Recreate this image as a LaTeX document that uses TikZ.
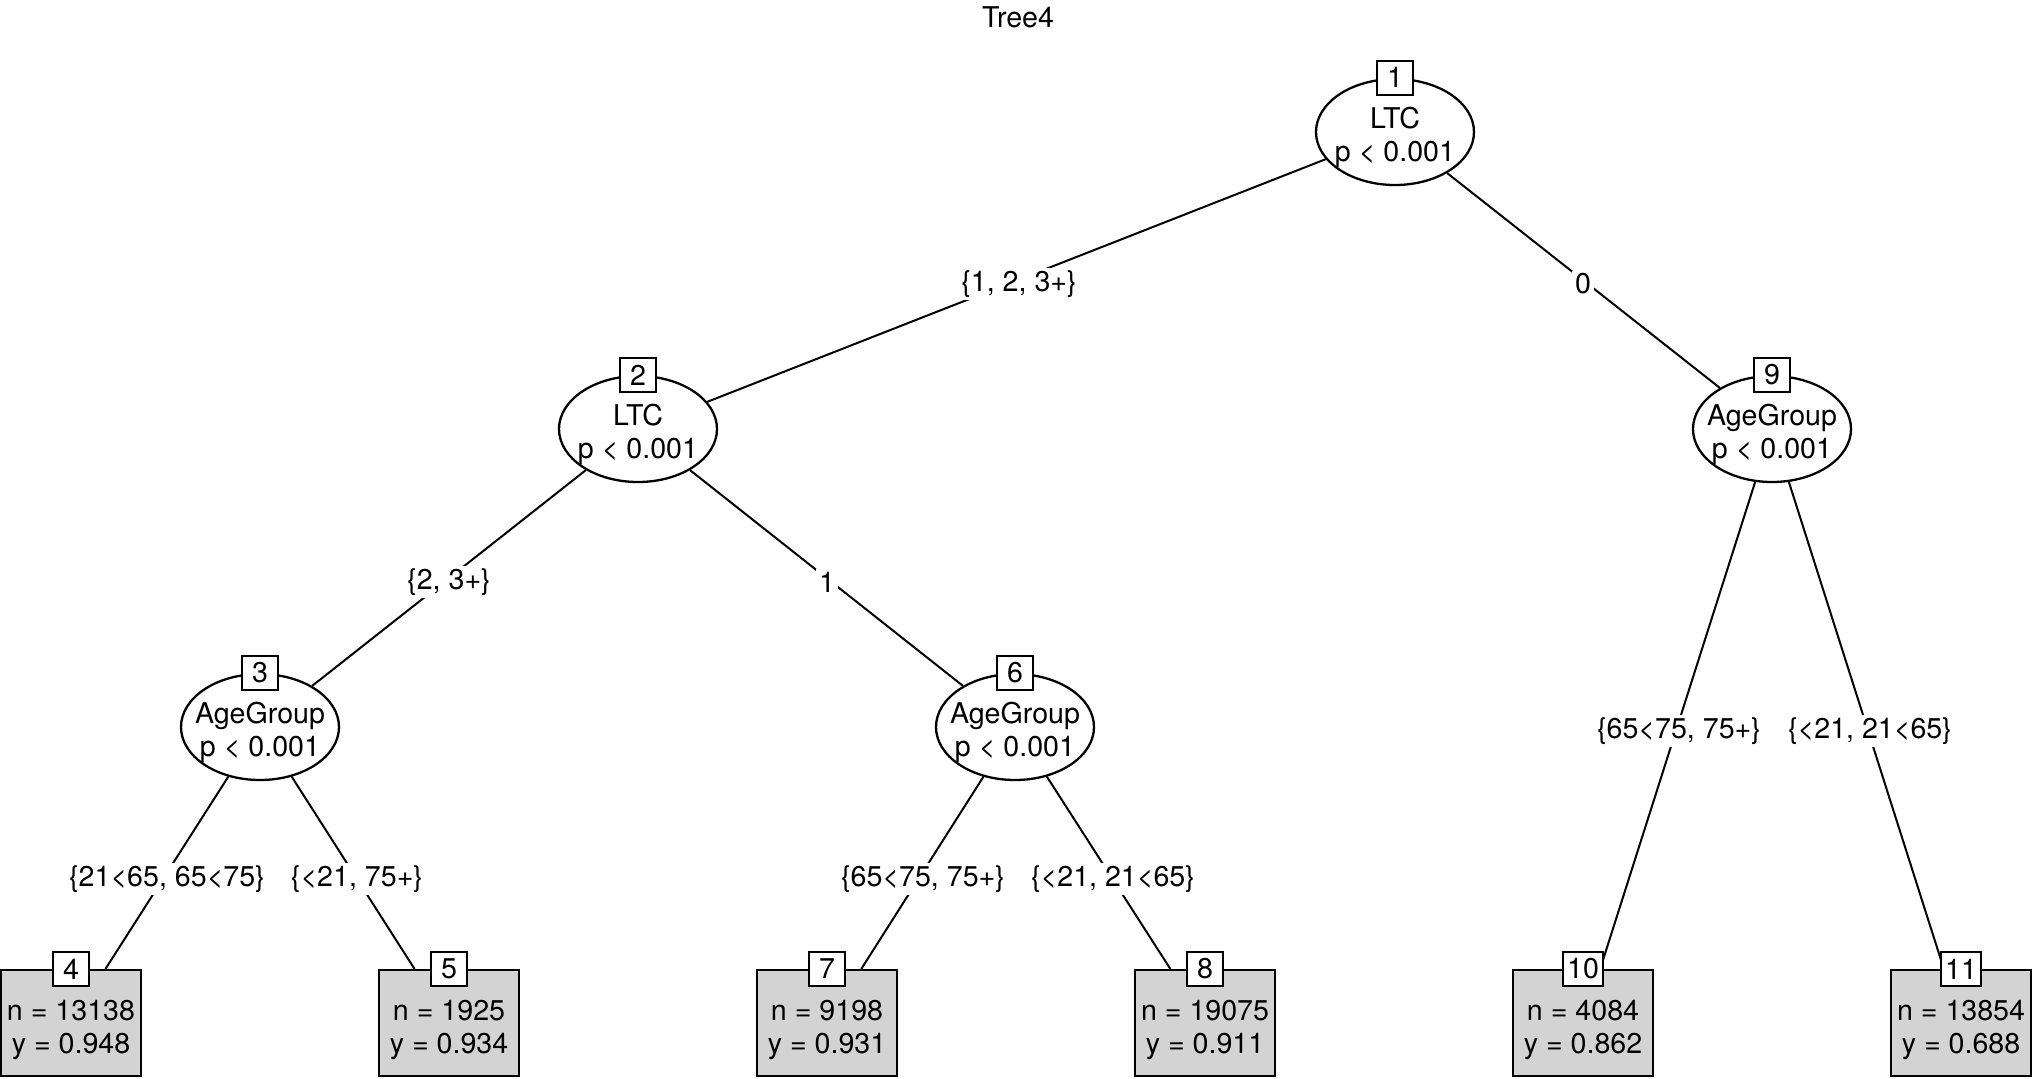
\documentclass[tikz,border=0pt]{standalone}
\usepackage{fontspec}
\setmainfont{TeX Gyre Heros}
\usetikzlibrary{shapes.geometric}
\definecolor{leafgray}{RGB}{211,211,211}
\begin{document}
\begin{tikzpicture}[x=0.5pt,y=-0.5pt,
  font=\fontsize{14.3}{16.5}\selectfont,
  inner/.style={ellipse,draw,line width=1.15pt,fill=white,minimum width=79pt,minimum height=53pt,inner sep=0pt},
  itext/.style={align=center,yshift=-2.5pt,inner sep=0pt},
  numbox/.style={rectangle,draw,line width=0.9pt,fill=white,minimum width=18pt,minimum height=17pt,inner sep=2pt},
  leaf/.style={rectangle,draw,line width=1pt,fill=leafgray,minimum width=70pt,minimum height=53pt,inner sep=0pt},
  ltext/.style={align=center,yshift=-3.6pt,inner sep=0pt},
  edge/.style={line width=1pt},
  elabel/.style={fill=white,inner sep=1.5pt}]
\useasboundingbox (0,0) rectangle (2036,1078);
\node (title) at (1018,17) {Tree4};

% inner nodes
\node[inner, label={[itext]center:{LTC\\p < 0.001}}] (i1) at (1395,132) {};
\node[inner, label={[itext]center:{LTC\\p < 0.001}}] (i2) at (638,429) {};
\node[inner, label={[itext]center:{AgeGroup\\p < 0.001}}] (i9) at (1772,429) {};
\node[inner, label={[itext]center:{AgeGroup\\p < 0.001}}] (i3) at (260,727) {};
\node[inner, label={[itext]center:{AgeGroup\\p < 0.001}}] (i6) at (1015,727) {};

% leaves
\node[leaf, label={[ltext]center:{n = 13138\\y = 0.948}}] (l4) at (71,1023) {};
\node[leaf, label={[ltext]center:{n = 1925\\y = 0.934}}] (l5) at (449,1023) {};
\node[leaf, label={[ltext]center:{n = 9198\\y = 0.931}}] (l7) at (827,1023) {};
\node[leaf, label={[ltext]center:{n = 19075\\y = 0.911}}] (l8) at (1205,1023) {};
\node[leaf, label={[ltext]center:{n = 4084\\y = 0.862}}] (l10) at (1583,1023) {};
\node[leaf, label={[ltext]center:{n = 13854\\y = 0.688}}] (l11) at (1961,1023) {};

% edges
\draw[edge] (i1) -- (i2);
\draw[edge] (i1) -- (i9);
\draw[edge] (i2) -- (i3);
\draw[edge] (i2) -- (i6);
\draw[edge] (i3) -- (l4);
\draw[edge] (i3) -- (l5);
\draw[edge] (i6) -- (l7);
\draw[edge] (i6) -- (l8);
\draw[edge] (i9) -- (l10);
\draw[edge] (i9) -- (l11);

% number boxes
\node[numbox] (b1) at (i1.north) {1};
\node[numbox] (b2) at (i2.north) {2};
\node[numbox] (b9) at (i9.north) {9};
\node[numbox] (b3) at (i3.north) {3};
\node[numbox] (b6) at (i6.north) {6};
\node[numbox] (b4) at (l4.north) {4};
\node[numbox] (b5) at (l5.north) {5};
\node[numbox] (b7) at (l7.north) {7};
\node[numbox] (b8) at (l8.north) {8};
\node[numbox] (b10) at (l10.north) {10};
\node[numbox] (b11) at (l11.north) {11};

% edge labels
\node[elabel] (e12) at (1019,284) {\{1, 2, 3+\}};
\node[elabel] (e19) at (1583,284) {0};
\node[elabel] (e23) at (449,582) {\{2, 3+\}};
\node[elabel] (e26) at (827,582) {1};
\node[elabel] (e910) at (1679,731) {\{65<75, 75+\}};
\node[elabel] (e911) at (1870,731) {\{<21, 21<65\}};
\node[elabel] (e34) at (167,879) {\{21<65, 65<75\}};
\node[elabel] (e35) at (357,879) {\{<21, 75+\}};
\node[elabel] (e67) at (923,879) {\{65<75, 75+\}};
\node[elabel] (e68) at (1113,879) {\{<21, 21<65\}};
\end{tikzpicture}
\end{document}
